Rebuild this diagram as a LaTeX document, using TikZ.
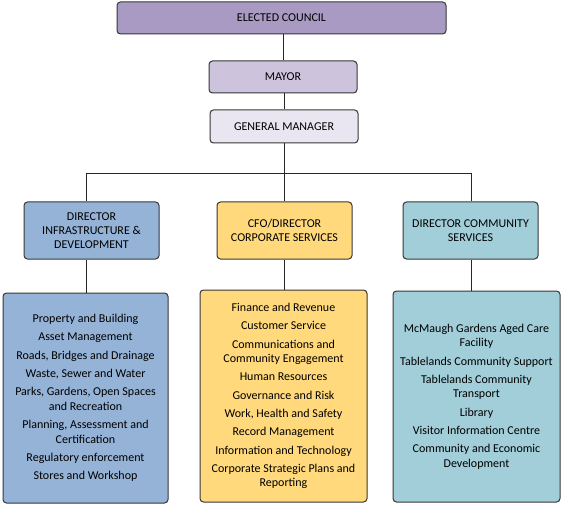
\documentclass[tikz,border=0pt]{standalone}
\usepackage{fontspec}
\setmainfont{Carlito}
\definecolor{councilc}{RGB}{168,154,195}
\definecolor{mayorc}{RGB}{205,195,220}
\definecolor{gmc}{RGB}{233,230,241}
\definecolor{bluec}{RGB}{149,179,215}
\definecolor{yellowc}{RGB}{255,217,124}
\definecolor{tealc}{RGB}{161,206,217}
\definecolor{linec}{RGB}{55,55,55}
\begin{document}
\begin{tikzpicture}[x=1pt,y=-1pt,
  box/.style={draw=linec,line width=1pt,rounded corners=3.5pt,inner sep=0pt,
    align=center,font=\fontsize{12}{14}\selectfont,text=black},
  listbox/.style={box,font=\fontsize{12}{14.5}\selectfont},
  conn/.style={draw=black!85,line width=0.9pt}]
\useasboundingbox (0,0) rectangle (562,505);
\node[box,fill=councilc,minimum width=329pt,minimum height=32pt] (council) at (281.5,18) {ELECTED COUNCIL};
\node[box,fill=mayorc,minimum width=148pt,minimum height=32pt] (mayor) at (283,77) {MAYOR};
\node[box,fill=gmc,minimum width=148pt,minimum height=33pt] (gm) at (284,126.5) {GENERAL MANAGER};
\node[box,fill=bluec,minimum width=135pt,minimum height=57pt] (d1) at (91.5,230.5) {DIRECTOR\\INFRASTRUCTURE \&\\DEVELOPMENT};
\node[box,fill=yellowc,minimum width=135pt,minimum height=57pt] (d2) at (284.5,230.5) {CFO/DIRECTOR\\CORPORATE SERVICES};
\node[box,fill=tealc,minimum width=135pt,minimum height=57pt] (d3) at (470.5,230.5) {DIRECTOR COMMUNITY\\SERVICES};
\node[listbox,fill=bluec,minimum width=165pt,minimum height=210pt] (b1) at (85.5,398) {Property and Building\\[3.8pt]
Asset Management\\[3.8pt]
Roads, Bridges and Drainage\\[3.8pt]
Waste, Sewer and Water\\[3.8pt]
Parks, Gardens, Open Spaces\\and Recreation\\[3.8pt]
Planning, Assessment and\\Certification\\[3.8pt]
Regulatory enforcement\\[3.8pt]
Stores and Workshop};
\node[listbox,fill=yellowc,minimum width=167pt,minimum height=212pt] (b2) at (283.5,396) {Finance and Revenue\\[3.8pt]
Customer Service\\[3.8pt]
Communications and\\Community Engagement\\[3.8pt]
Human Resources\\[3.8pt]
Governance and Risk\\[3.8pt]
Work, Health and Safety\\[3.8pt]
Record Management\\[3.8pt]
Information and Technology\\[3.8pt]
Corporate Strategic Plans and\\Reporting};
\node[listbox,fill=tealc,minimum width=167pt,minimum height=211pt] (b3) at (476.5,396.5) {McMaugh Gardens Aged Care\\Facility\\[3.8pt]
Tablelands Community Support\\[3.8pt]
Tablelands Community\\Transport\\[3.8pt]
Library\\[3.8pt]
Visitor Information Centre\\[3.8pt]
Community and Economic\\Development};
\coordinate (bus) at (284,173);
\coordinate (busL) at (86,173);
\coordinate (busR) at (471,173);
\draw[conn] (mayor.north) -- (mayor.north |- council.south);
\draw[conn] (gm.north) -- (gm.north |- mayor.south);
\draw[conn] (gm.south) -- (bus);
\draw[conn] (busL) -- (busR);
\draw[conn] (busL) -- (busL |- d1.north);
\draw[conn] (bus) -- (bus |- d2.north);
\draw[conn] (busR) -- (busR |- d3.north);
\draw[conn] (d1.south -| busL) -- (busL |- b1.north);
\draw[conn] (d2.south -| bus) -- (bus |- b2.north);
\draw[conn] (d3.south -| busR) -- (busR |- b3.north);
\end{tikzpicture}
\end{document}
